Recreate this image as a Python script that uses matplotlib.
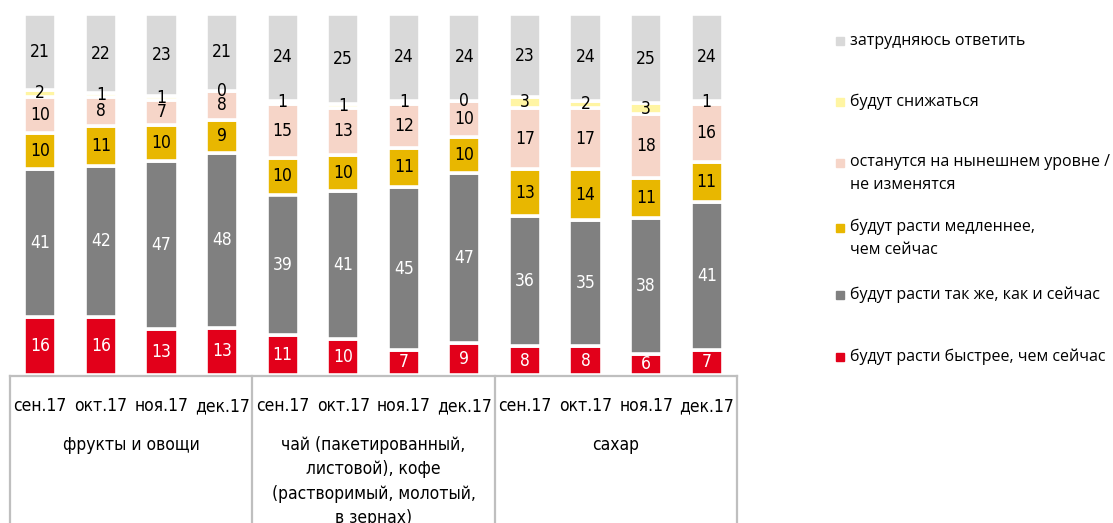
import matplotlib.pyplot as plt
from matplotlib.patches import Rectangle
import numpy as np

months = ['сен.17', 'окт.17', 'ноя.17', 'дек.17'] * 3
groups = ['фрукты и овощи',
          'чай (пакетированный,\nлистовой), кофе\n(растворимый, молотый,\nв зернах)',
          'сахар']

faster = [16, 16, 13, 13, 11, 10, 7, 9, 8, 8, 6, 7]
same = [41, 42, 47, 48, 39, 41, 45, 47, 36, 35, 38, 41]
slower = [10, 11, 10, 9, 10, 10, 11, 10, 13, 14, 11, 11]
unchanged = [10, 8, 7, 8, 15, 13, 12, 10, 17, 17, 18, 16]
decrease = [2, 1, 1, 0, 1, 1, 1, 0, 3, 2, 3, 1]
hard = [21, 22, 23, 21, 24, 25, 24, 24, 23, 24, 25, 24]

series = [faster, same, slower, unchanged, decrease, hard]
names = ['будут расти быстрее, чем сейчас',
         'будут расти так же, как и сейчас',
         'будут расти медленнее,\nчем сейчас',
         'останутся на нынешнем уровне /\nне изменятся',
         'будут снижаться',
         'затрудняюсь ответить']
colors = ['#E2001A', '#808080', '#E8B700', '#F6D5C8', '#FFF5A3', '#D9D9D9']
text_colors = ['white', 'white', 'black', 'black', 'black', 'black']

narrow = ['Liberation Sans Narrow', 'DejaVu Sans']
W, H = 1113, 523
fig = plt.figure(figsize=(W / 100, H / 100), dpi=100)
ax = fig.add_axes([10 / W, (H - 375) / H, 727 / W, 361 / H])

# 100% stacked: scale every column to its total
totals = np.sum(series, axis=0)
x = np.arange(len(months))
bottom = np.zeros(len(months))
for vals, c, tc in zip(series, colors, text_colors):
    vals = np.array(vals)
    share = vals / totals * 100
    ax.bar(x, share, 0.53, bottom=bottom, color=c, edgecolor='white', linewidth=2.6)
    for xi, b, s, v in zip(x, bottom, share, vals):
        ax.text(xi, b + s / 2, str(v), ha='center', va='center', color=tc,
                fontsize=12.5, family=narrow, stretch='condensed')
    bottom += share

ax.set_xlim(-0.5, 11.5)
ax.set_ylim(0, 100)
ax.axis('off')

# category table below the bars
line_c = '#BFBFBF'
fig.add_artist(plt.Line2D([10 / W, 737 / W], [(H - 376) / H] * 2, color=line_c, lw=1.6))
for px in [10, 252, 495, 737]:
    fig.add_artist(plt.Line2D([px / W, px / W], [0, (H - 376) / H], color=line_c, lw=1.6))

for i, m in enumerate(months):
    fig.text((10 + 60.6 * (i + 0.5)) / W, (H - 406) / H, m, ha='center', va='center',
             fontsize=12.5, family=narrow, stretch='condensed')
for g, gname in enumerate(groups):
    cx = (10 + 242.3 * (g + 0.5)) / W
    fig.text(cx, (H - 436) / H, gname, ha='center', va='top', fontsize=12.5,
             family=narrow, stretch='condensed', linespacing=1.45)

# legend
leg_y = [357, 295, 228, 163, 102, 41]
for name, c, ly in zip(names, colors, leg_y):
    fig.add_artist(Rectangle((836 / W, (H - ly - 4) / H), 8 / W, 8 / H, color=c,
                             transform=fig.transFigure))
    if '\n' in name:
        fig.text(850 / W, (H - ly + 9) / H, name, ha='left', va='top',
                 fontsize=11.5, family=['Open Sans', 'DejaVu Sans'], linespacing=1.55)
    else:
        fig.text(850 / W, (H - ly) / H, name, ha='left', va='center',
                 fontsize=11.5, family=['Open Sans', 'DejaVu Sans'])

fig.savefig('out.png', dpi=100)
